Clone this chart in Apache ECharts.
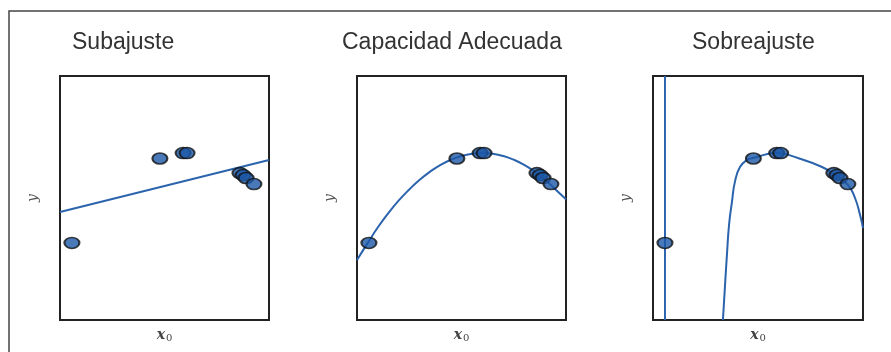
<!DOCTYPE html>
<html>
<head>
<meta charset="utf-8">
<script src="https://cdn.jsdelivr.net/npm/echarts@6/dist/echarts.min.js"></script>
<style>
html,body{margin:0;padding:0;background:#fff;}
#chart{width:891px;height:352px;}
</style>
</head>
<body>
<div id="chart"></div>
<script>
// Panel titles
const titles = ['Subajuste', 'Capacidad Adecuada', 'Sobreajuste'];
// Training points (same in all three panels)
const pointX = [0.57, 4.78, 5.89, 6.08, 8.61, 8.76, 8.90, 9.28];
const pointY = [3.16, 6.62, 6.84, 6.84, 6.02, 5.94, 5.82, 5.57];
// Linear fit (underfitting)
const linX = [0, 10];
const linY = [4.43, 6.56];
// Quadratic fit (appropriate capacity)
const quadX = [0, 0.53, 1.0, 1.5, 2.0, 2.5, 3.0, 3.5, 4.0, 4.5, 5.0, 5.5, 6.0, 6.5, 7.0, 7.5, 8.0, 8.5, 9.0, 9.5, 10];
const quadY = [2.46, 3.18, 3.80, 4.38, 4.90, 5.35, 5.75, 6.08, 6.36, 6.57, 6.72, 6.81, 6.84, 6.81, 6.72, 6.57, 6.36, 6.08, 5.75, 5.35, 4.95];
// High-degree fit (overfitting): vertical branch + main branch
const spikeX = [0.57, 0.57];
const spikeY = [0, 10];
const polyX = [3.33, 3.43, 3.52, 3.62, 3.76, 3.90, 4.14, 4.48, 4.76, 5.90, 6.90, 8.05, 8.67, 9.29, 9.62, 9.86, 10];
const polyY = [0, 1.43, 2.66, 3.89, 4.84, 5.66, 6.27, 6.56, 6.64, 6.84, 6.64, 6.27, 5.94, 5.53, 5.00, 4.30, 3.77];

const zip = (xs, ys) => xs.map((x, i) => [x, ys[i]]);

const grids = [
  {left: 60, top: 76, width: 209, height: 244},
  {left: 357, top: 76, width: 209, height: 244},
  {left: 653, top: 76, width: 210, height: 244}
];
const titlePos = [{left: 72}, {left: 342}, {left: 692}];

const lineColor = '#2b64ad';
const lineStyle = {color: lineColor, width: 2};
const scatterBase = {
  type: 'scatter',
  symbol: 'circle',
  symbolSize: [15, 11],
  itemStyle: {color: '#1c58a6', borderColor: '#111', borderWidth: 1.8},
  z: 5
};

const option = {
  backgroundColor: '#fff',
  animation: false,
  title: titles.map((t, i) => ({
    text: t, left: titlePos[i].left, top: 31, padding: 0,
    textStyle: {fontFamily: 'Liberation Sans, Arial, sans-serif', fontSize: 23, fontWeight: 'normal', color: '#333'}
  })),
  grid: grids.map(g => Object.assign({show: true, borderColor: '#222', borderWidth: 2, backgroundColor: '#fff', containLabel: false, outerBoundsMode: 'none'}, g)),
  xAxis: grids.map((g, i) => ({
    gridIndex: i, type: 'value', min: 0, max: 10,
    axisLine: {show: false}, axisTick: {show: false}, axisLabel: {show: false}, splitLine: {show: false},
    name: '{a|x}{b|0}', nameLocation: 'middle', nameGap: 7,
    nameTextStyle: {
      rich: {
        a: {fontFamily: 'DejaVu Serif', fontStyle: 'italic', fontWeight: 'bold', fontSize: 14, color: '#444'},
        b: {fontFamily: 'DejaVu Serif', fontSize: 10, color: '#444', padding: [6, 0, 0, 1]}
      }
    }
  })),
  yAxis: grids.map((g, i) => ({
    gridIndex: i, type: 'value', min: 0, max: 10,
    axisLine: {show: false}, axisTick: {show: false}, axisLabel: {show: false}, splitLine: {show: false},
    name: 'y', nameLocation: 'middle', nameGap: 20, nameRotate: 90,
    nameTextStyle: {fontFamily: 'DejaVu Serif', fontStyle: 'italic', fontSize: 14, color: '#555'}
  })),
  series: [
    {type: 'line', xAxisIndex: 0, yAxisIndex: 0, data: zip(linX, linY), symbol: 'none', lineStyle: lineStyle},
    Object.assign({xAxisIndex: 0, yAxisIndex: 0, data: zip(pointX, pointY)}, scatterBase),
    {type: 'line', xAxisIndex: 1, yAxisIndex: 1, data: zip(quadX, quadY), symbol: 'none', smooth: 0.5, lineStyle: lineStyle},
    Object.assign({xAxisIndex: 1, yAxisIndex: 1, data: zip(pointX, pointY)}, scatterBase),
    {type: 'line', xAxisIndex: 2, yAxisIndex: 2, data: zip(spikeX, spikeY), symbol: 'none', lineStyle: lineStyle},
    {type: 'line', xAxisIndex: 2, yAxisIndex: 2, data: zip(polyX, polyY), symbol: 'none', smooth: 0.5, lineStyle: lineStyle},
    Object.assign({xAxisIndex: 2, yAxisIndex: 2, data: zip(pointX, pointY)}, scatterBase)
  ],
  graphic: [
    {type: 'polyline', shape: {points: [[9, 352], [9, 11], [891, 11]]}, style: {stroke: '#444', lineWidth: 1.5, fill: null}, silent: true}
  ]
};

const chart = echarts.init(document.getElementById('chart'), null, {renderer: 'canvas'});
chart.setOption(option);
</script>
</body>
</html>
